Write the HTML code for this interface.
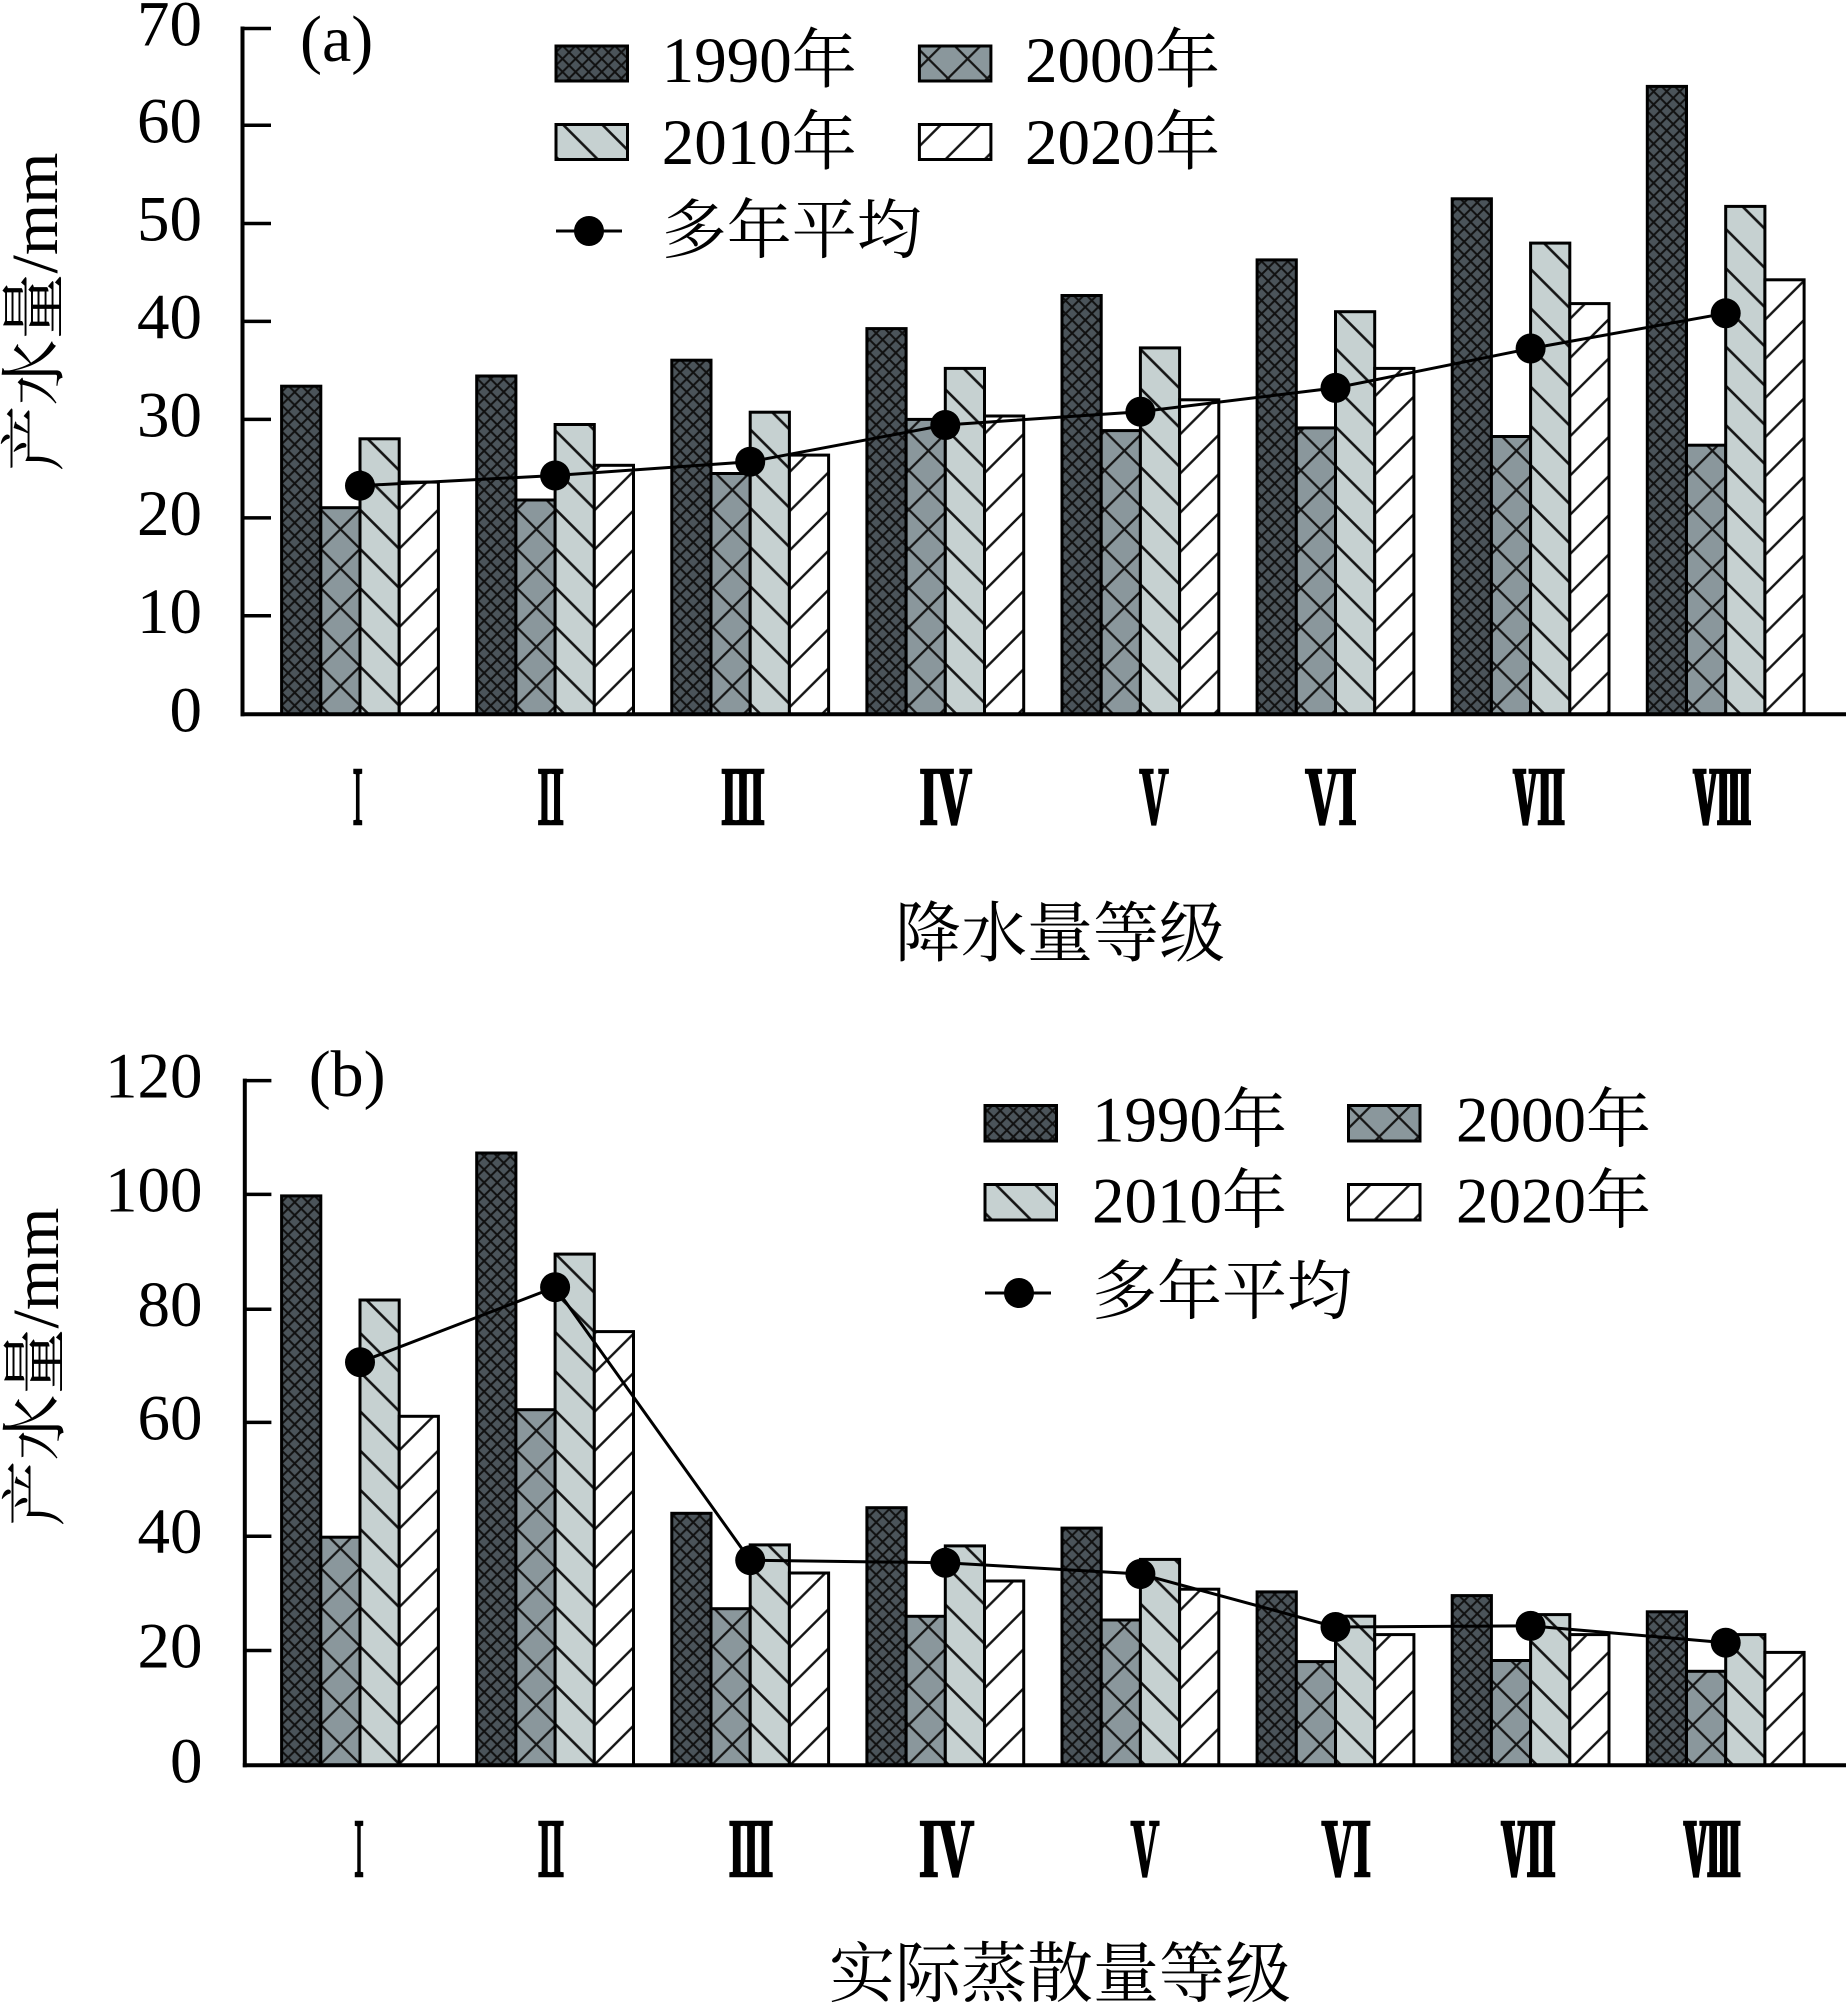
<!DOCTYPE html>
<html>
<head>
<meta charset="utf-8">
<style>
html,body{margin:0;padding:0;background:#fff;}
svg{display:block;}
text{font-family:"Liberation Serif","Noto Serif CJK SC",serif;fill:#000;}
.rn{font-family:"Noto Serif CJK SC","Liberation Serif",serif;font-weight:bold;stroke:#000;stroke-width:2.6px;}
</style>
</head>
<body>
<svg width="1847" height="2008" viewBox="0 0 1847 2008" xmlns="http://www.w3.org/2000/svg">
<defs>
  <pattern id="p90" patternUnits="userSpaceOnUse" x="281.6" y="0" width="13.067" height="13.067">
    <rect width="13.067" height="13.067" fill="#4b545a"/>
    <path d="M0,0L13.067,13.067M13.067,0L0,13.067M-1,1L1,-1M12.067,14.067L14.067,12.067M-1,12.067L1,14.067M12.067,-1L14.067,1" stroke="#111" stroke-width="2"/>
  </pattern>
  <pattern id="p00" patternUnits="userSpaceOnUse" x="320.8" y="0" width="39.2" height="39.2">
    <rect width="39.2" height="39.2" fill="#8a979c"/>
    <path d="M0,0L39.2,39.2M39.2,0L0,39.2M-1,1L1,-1M38.2,40.2L40.2,38.2M-1,38.2L1,40.2M38.2,-1L40.2,1" stroke="#151515" stroke-width="2.2"/>
  </pattern>
  <pattern id="p10" patternUnits="userSpaceOnUse" x="360" y="0" width="39.2" height="39.2">
    <rect width="39.2" height="39.2" fill="#c6d1d1"/>
    <path d="M0,0L39.2,39.2M-1,38.2L1,40.2M38.2,-1L40.2,1" stroke="#151515" stroke-width="2.6"/>
  </pattern>
  <pattern id="p20" patternUnits="userSpaceOnUse" x="399.2" y="0" width="39.2" height="39.2">
    <rect width="39.2" height="39.2" fill="#ffffff"/>
    <path d="M0,39.2L39.2,0M-1,1L1,-1M38.2,40.2L40.2,38.2" stroke="#151515" stroke-width="2.4"/>
  </pattern>
</defs>
<rect width="1847" height="2008" fill="#fff"/>

<!-- ================= PANEL A ================= -->
<g stroke="#000" stroke-width="3">
  <rect x="281.6" y="386.2" width="39.2" height="328.1" fill="url(#p90)"/>
  <rect x="320.8" y="507.7" width="39.2" height="206.6" fill="url(#p00)"/>
  <rect x="360.0" y="438.8" width="39.2" height="275.5" fill="url(#p10)"/>
  <rect x="399.2" y="482.1" width="39.2" height="232.2" fill="url(#p20)"/>

  <rect x="476.7" y="376.0" width="39.2" height="338.3" fill="url(#p90)"/>
  <rect x="515.9" y="500.0" width="39.2" height="214.3" fill="url(#p00)"/>
  <rect x="555.1" y="424.5" width="39.2" height="289.8" fill="url(#p10)"/>
  <rect x="594.3" y="465.3" width="39.2" height="249.0" fill="url(#p20)"/>

  <rect x="671.8" y="360.2" width="39.2" height="354.1" fill="url(#p90)"/>
  <rect x="711.0" y="473.5" width="39.2" height="240.8" fill="url(#p00)"/>
  <rect x="750.2" y="412.2" width="39.2" height="302.1" fill="url(#p10)"/>
  <rect x="789.4" y="455.1" width="39.2" height="259.2" fill="url(#p20)"/>

  <rect x="866.9" y="328.6" width="39.2" height="385.7" fill="url(#p90)"/>
  <rect x="906.1" y="419.4" width="39.2" height="294.9" fill="url(#p00)"/>
  <rect x="945.3" y="368.4" width="39.2" height="345.9" fill="url(#p10)"/>
  <rect x="984.5" y="416.0" width="39.2" height="298.3" fill="url(#p20)"/>

  <rect x="1062.0" y="295.5" width="39.2" height="418.8" fill="url(#p90)"/>
  <rect x="1101.2" y="430.6" width="39.2" height="283.7" fill="url(#p00)"/>
  <rect x="1140.4" y="347.9" width="39.2" height="366.4" fill="url(#p10)"/>
  <rect x="1179.6" y="399.8" width="39.2" height="314.5" fill="url(#p20)"/>

  <rect x="1257.1" y="259.9" width="39.2" height="454.4" fill="url(#p90)"/>
  <rect x="1296.3" y="427.9" width="39.2" height="286.4" fill="url(#p00)"/>
  <rect x="1335.5" y="311.7" width="39.2" height="402.6" fill="url(#p10)"/>
  <rect x="1374.7" y="368.4" width="39.2" height="345.9" fill="url(#p20)"/>

  <rect x="1452.2" y="198.8" width="39.2" height="515.5" fill="url(#p90)"/>
  <rect x="1491.4" y="436.5" width="39.2" height="277.8" fill="url(#p00)"/>
  <rect x="1530.6" y="243.1" width="39.2" height="471.2" fill="url(#p10)"/>
  <rect x="1569.8" y="303.6" width="39.2" height="410.7" fill="url(#p20)"/>

  <rect x="1647.3" y="86.4" width="39.2" height="627.9" fill="url(#p90)"/>
  <rect x="1686.5" y="445.2" width="39.2" height="269.1" fill="url(#p00)"/>
  <rect x="1725.7" y="206.4" width="39.2" height="507.9" fill="url(#p10)"/>
  <rect x="1764.9" y="279.8" width="39.2" height="434.5" fill="url(#p20)"/>
</g>

<!-- average line a -->
<polyline points="360.0,485.7 555.1,475.5 750.2,461.7 945.3,425 1140.4,411.7 1335.5,387.9 1530.6,348.5 1725.7,313.3" fill="none" stroke="#000" stroke-width="3"/>
<g fill="#000">
  <circle cx="360.0" cy="485.7" r="15"/>
  <circle cx="555.1" cy="475.5" r="15"/>
  <circle cx="750.2" cy="461.7" r="15"/>
  <circle cx="945.3" cy="425" r="15"/>
  <circle cx="1140.4" cy="411.7" r="15"/>
  <circle cx="1335.5" cy="387.9" r="15"/>
  <circle cx="1530.6" cy="348.5" r="15"/>
  <circle cx="1725.7" cy="313.3" r="15"/>
</g>

<!-- axes a -->
<g stroke="#000" stroke-width="4" fill="none">
  <line x1="242.5" y1="26.5" x2="242.5" y2="716.3"/>
  <line x1="240.5" y1="714.3" x2="1846" y2="714.3"/>
</g>
<g stroke="#000" stroke-width="3.5">
  <line x1="242.5" y1="28.5" x2="271" y2="28.5"/>
  <line x1="242.5" y1="125.3" x2="271" y2="125.3"/>
  <line x1="242.5" y1="223.5" x2="271" y2="223.5"/>
  <line x1="242.5" y1="321.4" x2="271" y2="321.4"/>
  <line x1="242.5" y1="419.4" x2="271" y2="419.4"/>
  <line x1="242.5" y1="517.9" x2="271" y2="517.9"/>
  <line x1="242.5" y1="615.8" x2="271" y2="615.8"/>
</g>
<g font-size="65" text-anchor="end">
  <text x="202" y="45.5">70</text>
  <text x="202" y="142.3">60</text>
  <text x="202" y="240.5">50</text>
  <text x="202" y="338.4">40</text>
  <text x="202" y="436.4">30</text>
  <text x="202" y="534.9">20</text>
  <text x="202" y="632.8">10</text>
  <text x="202" y="731.3">0</text>
</g>

<text x="300" y="61" font-size="66">(a)</text>

<!-- legend a -->
<g stroke="#000" stroke-width="3">
  <rect x="556" y="46" width="71.5" height="35" fill="url(#p90)"/>
  <rect x="919.4" y="46" width="71.5" height="35" fill="url(#p00)"/>
  <rect x="556" y="124.5" width="71.5" height="35" fill="url(#p10)"/>
  <rect x="919.4" y="124.5" width="71.5" height="35" fill="url(#p20)"/>
</g>
<line x1="556" y1="231" x2="622" y2="231" stroke="#000" stroke-width="3"/>
<circle cx="589" cy="231" r="15" fill="#000"/>
<g font-size="65">
  <text x="661.7" y="82">1990年</text>
  <text x="1025" y="82">2000年</text>
  <text x="661.7" y="164">2010年</text>
  <text x="1025" y="164">2020年</text>
  <text x="661.7" y="252.7">多年平均</text>
</g>

<!-- x labels a -->
<g font-size="72" text-anchor="middle">
  <text class="rn" x="357.7" y="824" textLength="21" lengthAdjust="spacingAndGlyphs">Ⅰ</text>
  <text class="rn" x="550.7" y="824" textLength="35" lengthAdjust="spacingAndGlyphs">Ⅱ</text>
  <text class="rn" x="743" y="824" textLength="44" lengthAdjust="spacingAndGlyphs">Ⅲ</text>
  <text class="rn" x="946" y="824" textLength="52" lengthAdjust="spacingAndGlyphs">Ⅳ</text>
  <text class="rn" x="1154" y="824" textLength="43" lengthAdjust="spacingAndGlyphs">Ⅴ</text>
  <text class="rn" x="1330.6" y="824" textLength="51" lengthAdjust="spacingAndGlyphs">Ⅵ</text>
  <text class="rn" x="1538.6" y="824" textLength="51" lengthAdjust="spacingAndGlyphs">Ⅶ</text>
  <text class="rn" x="1722" y="824" textLength="57" lengthAdjust="spacingAndGlyphs">Ⅷ</text>
</g>

<text x="1060" y="934.7" font-size="66" text-anchor="middle" dominant-baseline="central">降水量等级</text>
<text transform="translate(57,312) rotate(-90)" font-size="66" text-anchor="middle">产水量/mm</text>

<!-- ================= PANEL B ================= -->
<g stroke="#000" stroke-width="3">
  <rect x="281.6" y="1195.9" width="39.2" height="569.4" fill="url(#p90)"/>
  <rect x="320.8" y="1537.2" width="39.2" height="228.1" fill="url(#p00)"/>
  <rect x="360.0" y="1300.0" width="39.2" height="465.3" fill="url(#p10)"/>
  <rect x="399.2" y="1416.3" width="39.2" height="349.0" fill="url(#p20)"/>

  <rect x="476.7" y="1153.0" width="39.2" height="612.3" fill="url(#p90)"/>
  <rect x="515.9" y="1409.7" width="39.2" height="355.6" fill="url(#p00)"/>
  <rect x="555.1" y="1254.1" width="39.2" height="511.2" fill="url(#p10)"/>
  <rect x="594.3" y="1331.6" width="39.2" height="433.7" fill="url(#p20)"/>

  <rect x="671.8" y="1513.3" width="39.2" height="252.0" fill="url(#p90)"/>
  <rect x="711.0" y="1608.7" width="39.2" height="156.6" fill="url(#p00)"/>
  <rect x="750.2" y="1544.9" width="39.2" height="220.4" fill="url(#p10)"/>
  <rect x="789.4" y="1573.0" width="39.2" height="192.3" fill="url(#p20)"/>

  <rect x="866.9" y="1507.7" width="39.2" height="257.6" fill="url(#p90)"/>
  <rect x="906.1" y="1616.3" width="39.2" height="149.0" fill="url(#p00)"/>
  <rect x="945.3" y="1545.9" width="39.2" height="219.4" fill="url(#p10)"/>
  <rect x="984.5" y="1581.0" width="39.2" height="184.3" fill="url(#p20)"/>

  <rect x="1062.0" y="1528.1" width="39.2" height="237.2" fill="url(#p90)"/>
  <rect x="1101.2" y="1620.0" width="39.2" height="145.3" fill="url(#p00)"/>
  <rect x="1140.4" y="1559.4" width="39.2" height="205.9" fill="url(#p10)"/>
  <rect x="1179.6" y="1589.2" width="39.2" height="176.1" fill="url(#p20)"/>

  <rect x="1257.1" y="1591.9" width="39.2" height="173.4" fill="url(#p90)"/>
  <rect x="1296.3" y="1661.6" width="39.2" height="103.7" fill="url(#p00)"/>
  <rect x="1335.5" y="1616.2" width="39.2" height="149.1" fill="url(#p10)"/>
  <rect x="1374.7" y="1634.6" width="39.2" height="130.7" fill="url(#p20)"/>

  <rect x="1452.2" y="1595.6" width="39.2" height="169.7" fill="url(#p90)"/>
  <rect x="1491.4" y="1660.5" width="39.2" height="104.8" fill="url(#p00)"/>
  <rect x="1530.6" y="1614.6" width="39.2" height="150.7" fill="url(#p10)"/>
  <rect x="1569.8" y="1634.6" width="39.2" height="130.7" fill="url(#p20)"/>

  <rect x="1647.3" y="1611.8" width="39.2" height="153.5" fill="url(#p90)"/>
  <rect x="1686.5" y="1671.3" width="39.2" height="94.0" fill="url(#p00)"/>
  <rect x="1725.7" y="1634.6" width="39.2" height="130.7" fill="url(#p10)"/>
  <rect x="1764.9" y="1652.4" width="39.2" height="112.9" fill="url(#p20)"/>
</g>

<polyline points="360.0,1362.2 555.1,1287.2 750.2,1560.2 945.3,1562.8 1140.4,1574 1335.5,1627 1530.6,1625.9 1725.7,1642.7" fill="none" stroke="#000" stroke-width="3"/>
<g fill="#000">
  <circle cx="360.0" cy="1362.2" r="15"/>
  <circle cx="555.1" cy="1287.2" r="15"/>
  <circle cx="750.2" cy="1560.2" r="15"/>
  <circle cx="945.3" cy="1562.8" r="15"/>
  <circle cx="1140.4" cy="1574" r="15"/>
  <circle cx="1335.5" cy="1627" r="15"/>
  <circle cx="1530.6" cy="1625.9" r="15"/>
  <circle cx="1725.7" cy="1642.7" r="15"/>
</g>

<g stroke="#000" stroke-width="4" fill="none">
  <line x1="244.8" y1="1078.6" x2="244.8" y2="1767.3"/>
  <line x1="242.8" y1="1765.3" x2="1846" y2="1765.3"/>
</g>
<g stroke="#000" stroke-width="3.5">
  <line x1="244.8" y1="1080.6" x2="271.4" y2="1080.6"/>
  <line x1="244.8" y1="1194.4" x2="271.4" y2="1194.4"/>
  <line x1="244.8" y1="1309.2" x2="271.4" y2="1309.2"/>
  <line x1="244.8" y1="1422.4" x2="271.4" y2="1422.4"/>
  <line x1="244.8" y1="1536.2" x2="271.4" y2="1536.2"/>
  <line x1="244.8" y1="1650.5" x2="271.4" y2="1650.5"/>
</g>
<g font-size="65" text-anchor="end">
  <text x="202.5" y="1097.6">120</text>
  <text x="202.5" y="1211.4">100</text>
  <text x="202.5" y="1326.2">80</text>
  <text x="202.5" y="1439.4">60</text>
  <text x="202.5" y="1553.2">40</text>
  <text x="202.5" y="1667.5">20</text>
  <text x="202.5" y="1782.3">0</text>
</g>

<text x="308.7" y="1096" font-size="66">(b)</text>

<g stroke="#000" stroke-width="3">
  <rect x="985" y="1105.5" width="71.5" height="35.5" fill="url(#p90)"/>
  <rect x="1348.5" y="1105.5" width="71.5" height="35.5" fill="url(#p00)"/>
  <rect x="985" y="1184.5" width="71.5" height="35.5" fill="url(#p10)"/>
  <rect x="1348.5" y="1184.5" width="71.5" height="35.5" fill="url(#p20)"/>
</g>
<line x1="985" y1="1293" x2="1051" y2="1293" stroke="#000" stroke-width="3"/>
<circle cx="1019" cy="1293" r="15" fill="#000"/>
<g font-size="65">
  <text x="1092" y="1141.5">1990年</text>
  <text x="1456" y="1141.5">2000年</text>
  <text x="1092" y="1222.5">2010年</text>
  <text x="1456" y="1222.5">2020年</text>
  <text x="1092" y="1313.7">多年平均</text>
</g>

<g font-size="72" text-anchor="middle">
  <text class="rn" x="359" y="1876" textLength="20" lengthAdjust="spacingAndGlyphs">Ⅰ</text>
  <text class="rn" x="551" y="1876" textLength="35" lengthAdjust="spacingAndGlyphs">Ⅱ</text>
  <text class="rn" x="751" y="1876" textLength="44.6" lengthAdjust="spacingAndGlyphs">Ⅲ</text>
  <text class="rn" x="947" y="1876" textLength="54.4" lengthAdjust="spacingAndGlyphs">Ⅳ</text>
  <text class="rn" x="1145" y="1876" textLength="42" lengthAdjust="spacingAndGlyphs">Ⅴ</text>
  <text class="rn" x="1346" y="1876" textLength="49" lengthAdjust="spacingAndGlyphs">Ⅵ</text>
  <text class="rn" x="1528" y="1876" textLength="53.4" lengthAdjust="spacingAndGlyphs">Ⅶ</text>
  <text class="rn" x="1712" y="1876" textLength="56" lengthAdjust="spacingAndGlyphs">Ⅷ</text>
</g>

<text x="1060" y="1975" font-size="66" text-anchor="middle" dominant-baseline="central">实际蒸散量等级</text>
<text transform="translate(58,1367) rotate(-90)" font-size="66" text-anchor="middle">产水量/mm</text>
</svg>
</body>
</html>
